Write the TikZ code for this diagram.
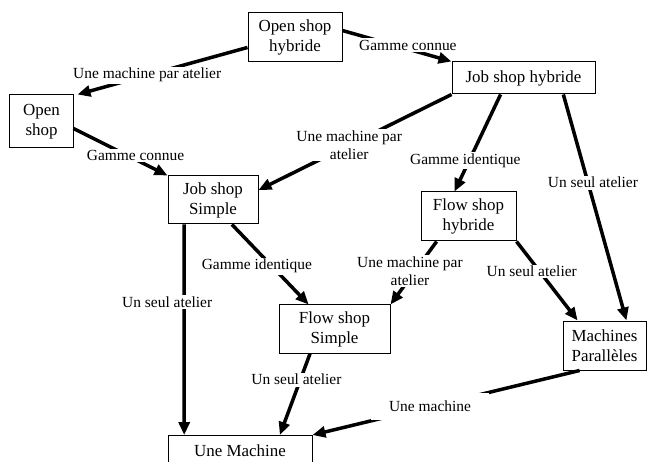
\documentclass[tikz,border=0pt]{standalone}
\usepackage{fontspec}
\setmainfont{Liberation Serif}
\usetikzlibrary{arrows.meta}

\begin{document}
\begin{tikzpicture}[x=1bp,y=-1bp,
    box/.style={draw=black,line width=1bp,align=center,inner sep=2bp,font=\fontsize{17}{20}\selectfont},
    lbl/.style={fill=white,inner sep=1.5bp,align=center,font=\fontsize{15.5}{18}\selectfont},
    arr/.style={draw=black,line width=3.5bp,-{Triangle[length=13bp,width=11bp]}}]
    \clip (0,0) rectangle (647,462);
    \node[box,minimum width=94bp,minimum height=49bp] (OSH) at (295,37.5) {Open shop\\hybride};
    \node[box,minimum width=143bp,minimum height=32bp] (JSH) at (523.5,78) {Job shop hybride};
    \node[box,minimum width=63bp,minimum height=53bp] (OS) at (41.5,121.5) {Open\\shop};
    \node[box,minimum width=90bp,minimum height=48bp] (JSS) at (213,200) {Job shop\\Simple};
    \node[box,minimum width=95bp,minimum height=49bp] (FSH) at (468.5,216.5) {Flow shop\\hybride};
    \node[box,minimum width=111bp,minimum height=48bp] (FSS) at (334.5,329) {Flow shop\\Simple};
    \node[box,minimum width=83bp,minimum height=49bp] (MP) at (604.5,345.5) {Machines\\Parall\`eles};
    \node[box,minimum width=144bp,minimum height=30bp,anchor=north] (UM) at (240,435) {Une Machine};
    \path ([yshift=-10]OSH.west) edge[arr] node[lbl,pos=0.59] {Une machine par atelier} ([xshift=4]OS.north east);
    \path ([yshift=7]OSH.east) edge[arr] node[lbl,pos=0.6,yshift=4] {Gamme connue} (JSH.north west);
    \path ([yshift=-7]OS.east) edge[arr] node[lbl,pos=0.66,yshift=4] {Gamme connue} (JSS.north west);
    \path (JSH.south west) edge[arr] node[lbl,pos=0.53] {Une machine par\\atelier} ([yshift=10]JSS.east);
    \path ([xshift=-23]JSH.south) edge[arr] node[lbl,pos=0.68,xshift=-4] {Gamme identique} ([xshift=-14]FSH.north);
    \path ([xshift=40]JSH.south) edge[arr] node[lbl,pos=0.39,xshift=5] {Un seul atelier} ([xshift=22]MP.north);
    \path ([xshift=19]JSS.south) edge[arr] node[lbl,pos=0.52,xshift=-15] {Gamme identique} ([xshift=-26]FSS.north);
    \path ([xshift=-29]JSS.south) edge[arr] node[lbl,pos=0.37,xshift=-17] {Un seul atelier} ([xshift=-56]UM.north);
    \path ([xshift=-32]FSH.south) edge[arr] node[lbl,pos=0.47,xshift=-5] {Une machine par\\atelier} (FSS.north east);
    \path (FSH.south east) edge[arr] node[lbl,pos=0.38,xshift=-8] {Un seul atelier} ([xshift=-27]MP.north);
    \path ([xshift=-24.5]FSS.south) edge[arr] node[lbl,pos=0.32,xshift=-4] {Un seul atelier} ([xshift=40]UM.north);
    \path ([xshift=-25]MP.south) edge[arr] node[lbl,pos=0.56,inner xsep=18bp,inner ysep=8bp] {Une machine} (UM.north east);
\end{tikzpicture}
\end{document}
